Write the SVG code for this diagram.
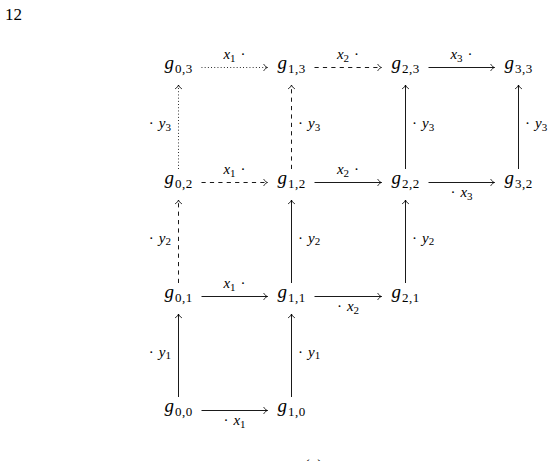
<svg xmlns="http://www.w3.org/2000/svg" width="557" height="461" viewBox="0 0 557 461" font-family="'Liberation Serif', 'Times New Roman', serif">
<style>
.n { font-family: 'Liberation Serif', serif; font-size: 19px; text-anchor: middle; }
.it { font-style: italic; }
.sub { font-size: 13px; letter-spacing: 0.5px; }
.l { font-family: 'Liberation Serif', serif; font-size: 15px; }
.lc { text-anchor: middle; }
.le { text-anchor: end; }
.ls { text-anchor: start; }
.ss { font-size: 11px; }
.c { fill: none; stroke: #000; stroke-width: 0.9; marker-end: url(#ah); }
.dot { stroke-dasharray: 0.9 2.3; }
.dash { stroke-dasharray: 4.2 4.2; }
</style>
<defs>
<marker id="ah" markerUnits="userSpaceOnUse" viewBox="-5 -4 6 8" refX="0" refY="0" markerWidth="6" markerHeight="8" orient="auto" overflow="visible">
<path d="M-3.6,-3 C-2.6,-1.3 -1.2,-0.4 0,0 C-1.2,0.4 -2.6,1.3 -3.6,3" fill="none" stroke="#000" stroke-width="0.9" stroke-dasharray="none" stroke-linecap="round"/>
</marker>
</defs>

<text x="5" y="20" font-size="17">12</text>

<g id="connectors">
<path class="c dot" d="M201.5,67.5 H267.5"/>
<path class="c dash" d="M314.5,67.5 H381.5"/>
<path class="c" d="M428.5,67.5 H494.5"/>
<path class="c dash" d="M201.5,182.5 H267.5"/>
<path class="c" d="M314.5,182.5 H381.5"/>
<path class="c" d="M428.5,182.5 H494.5"/>
<path class="c" d="M201.5,296.5 H267.5"/>
<path class="c" d="M314.5,296.5 H381.5"/>
<path class="c" d="M201.5,410.5 H267.5"/>
<path class="c" d="M178.5,397 V314"/>
<path class="c dash" d="M178.5,283 V200"/>
<path class="c dot" d="M178.5,169 V85"/>
<path class="c" d="M291.5,397 V314"/>
<path class="c" d="M291.5,283 V200"/>
<path class="c dash" d="M291.5,169 V85"/>
<path class="c" d="M405.5,283 V200"/>
<path class="c" d="M405.5,169 V85"/>
<path class="c" d="M518.5,169 V85"/>
<text class="l lc" x="234.5" y="59"><tspan class="it">x</tspan><tspan class="ss" dy="2.5">1</tspan><tspan dy="-2.5" dx="5">·</tspan></text>
<text class="l lc" x="348" y="59"><tspan class="it">x</tspan><tspan class="ss" dy="2.5">2</tspan><tspan dy="-2.5" dx="5">·</tspan></text>
<text class="l lc" x="461.5" y="59"><tspan class="it">x</tspan><tspan class="ss" dy="2.5">3</tspan><tspan dy="-2.5" dx="5">·</tspan></text>
<text class="l lc" x="234.5" y="174"><tspan class="it">x</tspan><tspan class="ss" dy="2.5">1</tspan><tspan dy="-2.5" dx="5">·</tspan></text>
<text class="l lc" x="348" y="174"><tspan class="it">x</tspan><tspan class="ss" dy="2.5">2</tspan><tspan dy="-2.5" dx="5">·</tspan></text>
<text class="l lc" x="461.5" y="197"><tspan>·</tspan><tspan class="it" dx="5">x</tspan><tspan class="ss" dy="2.5">3</tspan></text>
<text class="l lc" x="234.5" y="288"><tspan class="it">x</tspan><tspan class="ss" dy="2.5">1</tspan><tspan dy="-2.5" dx="5">·</tspan></text>
<text class="l lc" x="348" y="311"><tspan>·</tspan><tspan class="it" dx="5">x</tspan><tspan class="ss" dy="2.5">2</tspan></text>
<text class="l lc" x="234.5" y="425"><tspan>·</tspan><tspan class="it" dx="5">x</tspan><tspan class="ss" dy="2.5">1</tspan></text>
<text class="l le" x="171" y="128"><tspan>·</tspan><tspan class="it" dx="5">y</tspan><tspan class="ss" dy="2.5">3</tspan></text>
<text class="l le" x="171" y="242.5"><tspan>·</tspan><tspan class="it" dx="5">y</tspan><tspan class="ss" dy="2.5">2</tspan></text>
<text class="l le" x="171" y="356.5"><tspan>·</tspan><tspan class="it" dx="5">y</tspan><tspan class="ss" dy="2.5">1</tspan></text>
<text class="l ls" x="298" y="128"><tspan>·</tspan><tspan class="it" dx="5">y</tspan><tspan class="ss" dy="2.5">3</tspan></text>
<text class="l ls" x="298" y="242.5"><tspan>·</tspan><tspan class="it" dx="5">y</tspan><tspan class="ss" dy="2.5">2</tspan></text>
<text class="l ls" x="298" y="356.5"><tspan>·</tspan><tspan class="it" dx="5">y</tspan><tspan class="ss" dy="2.5">1</tspan></text>
<text class="l ls" x="412" y="128"><tspan>·</tspan><tspan class="it" dx="5">y</tspan><tspan class="ss" dy="2.5">3</tspan></text>
<text class="l ls" x="412" y="242.5"><tspan>·</tspan><tspan class="it" dx="5">y</tspan><tspan class="ss" dy="2.5">2</tspan></text>
<text class="l ls" x="525" y="128"><tspan>·</tspan><tspan class="it" dx="5">y</tspan><tspan class="ss" dy="2.5">3</tspan></text>
</g>

<g id="n03"><text class="n" x="178.5" y="69"><tspan class="it">g</tspan><tspan class="sub" dx="1" dy="3.5">0,3</tspan></text></g>
<g id="n13"><text class="n" x="291.5" y="69"><tspan class="it">g</tspan><tspan class="sub" dx="1" dy="3.5">1,3</tspan></text></g>
<g id="n23"><text class="n" x="405.5" y="69"><tspan class="it">g</tspan><tspan class="sub" dx="1" dy="3.5">2,3</tspan></text></g>
<g id="n33"><text class="n" x="518.5" y="69"><tspan class="it">g</tspan><tspan class="sub" dx="1" dy="3.5">3,3</tspan></text></g>
<g id="n02"><text class="n" x="178.5" y="184"><tspan class="it">g</tspan><tspan class="sub" dx="1" dy="3.5">0,2</tspan></text></g>
<g id="n12"><text class="n" x="291.5" y="184"><tspan class="it">g</tspan><tspan class="sub" dx="1" dy="3.5">1,2</tspan></text></g>
<g id="n22"><text class="n" x="405.5" y="184"><tspan class="it">g</tspan><tspan class="sub" dx="1" dy="3.5">2,2</tspan></text></g>
<g id="n32"><text class="n" x="518.5" y="184"><tspan class="it">g</tspan><tspan class="sub" dx="1" dy="3.5">3,2</tspan></text></g>
<g id="n01"><text class="n" x="178.5" y="298"><tspan class="it">g</tspan><tspan class="sub" dx="1" dy="3.5">0,1</tspan></text></g>
<g id="n11"><text class="n" x="291.5" y="298"><tspan class="it">g</tspan><tspan class="sub" dx="1" dy="3.5">1,1</tspan></text></g>
<g id="n21"><text class="n" x="405.5" y="298"><tspan class="it">g</tspan><tspan class="sub" dx="1" dy="3.5">2,1</tspan></text></g>
<g id="n00"><text class="n" x="178.5" y="412"><tspan class="it">g</tspan><tspan class="sub" dx="1" dy="3.5">0,0</tspan></text></g>
<g id="n10"><text class="n" x="291.5" y="412"><tspan class="it">g</tspan><tspan class="sub" dx="1" dy="3.5">1,0</tspan></text></g>

<text x="313.5" y="471" font-size="17" text-anchor="middle">(a)</text>
</svg>
